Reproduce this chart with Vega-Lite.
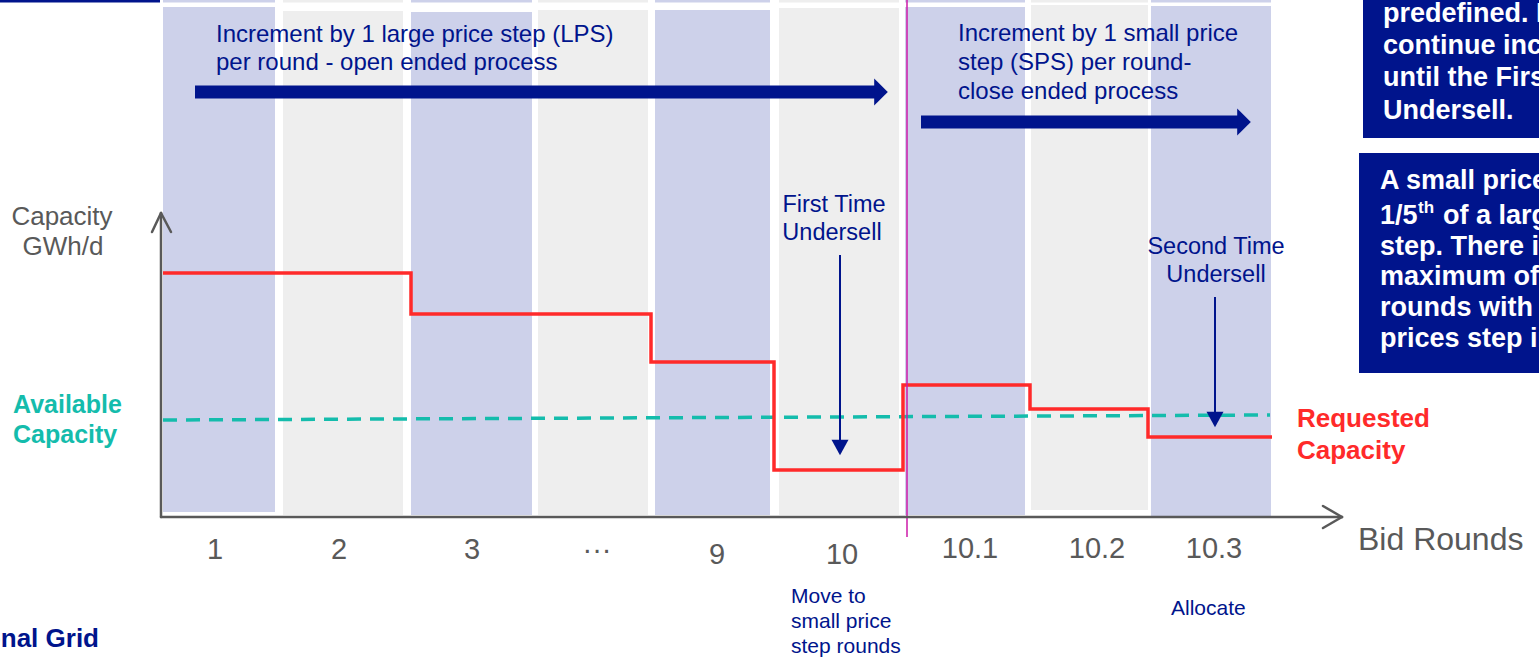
{
  "$schema": "https://vega.github.io/schema/vega-lite/v6.json",
  "width": 1539,
  "height": 657,
  "autosize": {"type": "none"},
  "padding": 0,
  "background": "white",
  "config": {
    "view": {"stroke": null},
    "text": {"font": "Liberation Sans", "baseline": "alphabetic"}
  },
  "datasets": {
    "cols": [
      {"round": "1", "shade": "blue", "x": 163, "x2": 275, "y": 7, "y2": 512},
      {"round": "2", "shade": "gray", "x": 283, "x2": 403, "y": 11, "y2": 515},
      {"round": "3", "shade": "blue", "x": 411, "x2": 532, "y": 12, "y2": 515},
      {"round": "...", "shade": "gray", "x": 538, "x2": 648, "y": 10, "y2": 515},
      {"round": "9", "shade": "blue", "x": 655, "x2": 770, "y": 10, "y2": 515},
      {"round": "10", "shade": "gray", "x": 779, "x2": 899, "y": 8, "y2": 515},
      {"round": "10.1", "shade": "blue", "x": 905, "x2": 1025, "y": 7, "y2": 515},
      {"round": "10.2", "shade": "gray", "x": 1031, "x2": 1148, "y": 5, "y2": 510},
      {"round": "10.3", "shade": "blue", "x": 1151, "x2": 1271, "y": 6, "y2": 518}
    ],
    "requested": [
      {"x": 163, "y": 273},
      {"x": 411, "y": 314},
      {"x": 651, "y": 362},
      {"x": 774, "y": 470},
      {"x": 903, "y": 385},
      {"x": 1030, "y": 409},
      {"x": 1148, "y": 437},
      {"x": 1272, "y": 437}
    ],
    "axes": [
      {"x": 161, "y": 517, "x2": 1342, "y2": 517},
      {"x": 1323, "y": 506, "x2": 1342, "y2": 517},
      {"x": 1323, "y": 528, "x2": 1342, "y2": 517},
      {"x": 161, "y": 517, "x2": 161, "y2": 213},
      {"x": 152, "y": 232, "x2": 161, "y2": 213},
      {"x": 171, "y": 232, "x2": 161, "y2": 213}
    ],
    "ticks": [
      {"x": 215, "y": 559, "t": "1"},
      {"x": 339, "y": 559, "t": "2"},
      {"x": 472, "y": 559, "t": "3"},
      {"x": 597, "y": 559, "t": "···"},
      {"x": 717, "y": 564, "t": "9"},
      {"x": 842, "y": 564, "t": "10"},
      {"x": 970, "y": 558, "t": "10.1"},
      {"x": 1097, "y": 558, "t": "10.2"},
      {"x": 1214, "y": 558, "t": "10.3"}
    ]
  },
  "encoding": {
    "x": {"field": "x", "type": "quantitative", "scale": {"domain": [0, 1539], "nice": false, "zero": false}, "axis": null},
    "y": {"field": "y", "type": "quantitative", "scale": {"domain": [0, 657], "nice": false, "zero": false, "reverse": true}, "axis": null}
  },
  "layer": [
    {
      "data": {"name": "cols"},
      "mark": {"type": "rect"},
      "encoding": {
        "x2": {"field": "x2"},
        "y": {"datum": 0},
        "y2": {"datum": 2.5},
        "color": {"field": "shade", "type": "nominal", "scale": {"domain": ["blue", "gray"], "range": ["#cdd1ea", "#eeeeee"]}, "legend": null}
      }
    },
    {
      "data": {"name": "cols"},
      "mark": {"type": "rect"},
      "encoding": {
        "x2": {"field": "x2"},
        "y2": {"field": "y2"},
        "color": {"field": "shade", "type": "nominal", "legend": null}
      }
    },
    {
      "data": {"values": [{"x": 0, "x2": 160, "y": 1}]},
      "mark": {"type": "rule", "color": "#00148c", "strokeWidth": 3},
      "encoding": {"x2": {"field": "x2"}}
    },
    {
      "data": {"values": [{"x": 163, "y": 420, "x2": 1270, "y2": 415}]},
      "mark": {"type": "rule", "color": "#14bcac", "strokeWidth": 3.5, "strokeDash": [14, 9]},
      "encoding": {"x2": {"field": "x2"}, "y2": {"field": "y2"}}
    },
    {
      "data": {"name": "requested"},
      "mark": {"type": "line", "interpolate": "step-after", "color": "#ff2a2a", "strokeWidth": 3.5},
      "encoding": {}
    },
    {
      "data": {"values": [{"x": 907, "y": 0, "y2": 537}]},
      "mark": {"type": "rule", "color": "#cc1aa8", "strokeWidth": 1.5},
      "encoding": {"y2": {"field": "y2"}}
    },
    {
      "data": {"name": "axes"},
      "mark": {"type": "rule", "color": "#595959", "strokeWidth": 2.5, "strokeCap": "round"},
      "encoding": {"x2": {"field": "x2"}, "y2": {"field": "y2"}}
    },
    {
      "data": {"values": [
        {"x": 195, "x2": 876, "y": 92},
        {"x": 921, "x2": 1239, "y": 122}
      ]},
      "mark": {"type": "rule", "color": "#00148c", "strokeWidth": 13},
      "encoding": {"x2": {"field": "x2"}}
    },
    {
      "data": {"values": [{"x": 881, "y": 92}, {"x": 1244, "y": 122}]},
      "mark": {"type": "point", "shape": "M -0.5 -1 L 0.5 0 L -0.5 1 Z", "size": 740, "filled": true, "color": "#00148c", "opacity": 1, "strokeWidth": 0},
      "encoding": {}
    },
    {
      "data": {"values": [
        {"x": 840, "y": 255, "y2": 442},
        {"x": 1215, "y": 297, "y2": 414}
      ]},
      "mark": {"type": "rule", "color": "#00148c", "strokeWidth": 2},
      "encoding": {"y2": {"field": "y2"}}
    },
    {
      "data": {"values": [{"x": 840, "y": 447.5}, {"x": 1215, "y": 419.5}]},
      "mark": {"type": "point", "shape": "M -1 -0.9 L 1 -0.9 L 0 0.9 Z", "size": 289, "filled": true, "color": "#00148c", "opacity": 1, "strokeWidth": 0},
      "encoding": {}
    },
    {
      "data": {"values": [
        {"x": 1363, "x2": 1545, "y": -5, "y2": 138},
        {"x": 1359, "x2": 1545, "y": 153, "y2": 373}
      ]},
      "mark": {"type": "rect", "color": "#00148c"},
      "encoding": {"x2": {"field": "x2"}, "y2": {"field": "y2"}}
    },
    {
      "data": {"values": [
        {"x": 216, "y": 42, "t": "Increment by 1 large price step (LPS)"},
        {"x": 216, "y": 70, "t": "per round - open ended process"},
        {"x": 958, "y": 41, "t": "Increment by 1 small price"},
        {"x": 958, "y": 70, "t": "step (SPS) per round-"},
        {"x": 958, "y": 99, "t": "close ended process"}
      ]},
      "mark": {"type": "text", "align": "left", "fontSize": 24, "color": "#00148c"},
      "encoding": {"text": {"field": "t"}}
    },
    {
      "data": {"values": [
        {"x": 834, "y": 212, "t": "First Time"},
        {"x": 832, "y": 240, "t": "Undersell"},
        {"x": 1216, "y": 254, "t": "Second Time"},
        {"x": 1216, "y": 282, "t": "Undersell"}
      ]},
      "mark": {"type": "text", "align": "center", "fontSize": 23.5, "color": "#00148c"},
      "encoding": {"text": {"field": "t"}}
    },
    {
      "data": {"values": [
        {"x": 791, "y": 603, "t": "Move to"},
        {"x": 791, "y": 628, "t": "small price"},
        {"x": 791, "y": 653, "t": "step rounds"},
        {"x": 1171, "y": 615, "t": "Allocate"}
      ]},
      "mark": {"type": "text", "align": "left", "fontSize": 21, "color": "#00148c"},
      "encoding": {"text": {"field": "t"}}
    },
    {
      "data": {"values": [
        {"x": 62, "y": 225, "t": "Capacity"},
        {"x": 63, "y": 255, "t": "GWh/d"}
      ]},
      "mark": {"type": "text", "align": "center", "fontSize": 26, "color": "#595959"},
      "encoding": {"text": {"field": "t"}}
    },
    {
      "data": {"name": "ticks"},
      "mark": {"type": "text", "align": "center", "fontSize": 29, "color": "#595959"},
      "encoding": {"text": {"field": "t"}}
    },
    {
      "data": {"values": [{"x": 1358, "y": 550, "t": "Bid  Rounds"}]},
      "mark": {"type": "text", "align": "left", "fontSize": 32, "color": "#595959"},
      "encoding": {"text": {"field": "t"}}
    },
    {
      "data": {"values": [
        {"x": 13, "y": 413, "t": "Available"},
        {"x": 13, "y": 443, "t": "Capacity"}
      ]},
      "mark": {"type": "text", "align": "left", "fontSize": 25, "fontWeight": "bold", "color": "#14bcac"},
      "encoding": {"text": {"field": "t"}}
    },
    {
      "data": {"values": [
        {"x": 1297, "y": 427, "t": "Requested"},
        {"x": 1297, "y": 459, "t": "Capacity"}
      ]},
      "mark": {"type": "text", "align": "left", "fontSize": 26, "fontWeight": "bold", "color": "#ff2a2a"},
      "encoding": {"text": {"field": "t"}}
    },
    {
      "data": {"values": [{"x": 99, "y": 647, "t": "National Grid"}]},
      "mark": {"type": "text", "align": "right", "fontSize": 26, "fontWeight": "bold", "color": "#00148c"},
      "encoding": {"text": {"field": "t"}}
    },
    {
      "data": {"values": [
        {"x": 1383, "y": 22, "t": "predefined. Bids"},
        {"x": 1383, "y": 54, "t": "continue increasing"},
        {"x": 1383, "y": 86, "t": "until the First Time"},
        {"x": 1383, "y": 119, "t": "Undersell."},
        {"x": 1380, "y": 189, "t": "A small price step is"},
        {"x": 1380, "y": 224, "t": "1/5"},
        {"x": 1443, "y": 224, "t": "of a large price"},
        {"x": 1380, "y": 255, "t": "step. There is a"},
        {"x": 1380, "y": 285, "t": "maximum of four"},
        {"x": 1380, "y": 316, "t": "rounds with small"},
        {"x": 1380, "y": 347, "t": "prices step increments."}
      ]},
      "mark": {"type": "text", "align": "left", "fontSize": 27, "fontWeight": "bold", "color": "white"},
      "encoding": {"text": {"field": "t"}}
    },
    {
      "data": {"values": [{"x": 1418, "y": 213, "t": "th"}]},
      "mark": {"type": "text", "align": "left", "fontSize": 17, "fontWeight": "bold", "color": "white"},
      "encoding": {"text": {"field": "t"}}
    }
  ]
}
